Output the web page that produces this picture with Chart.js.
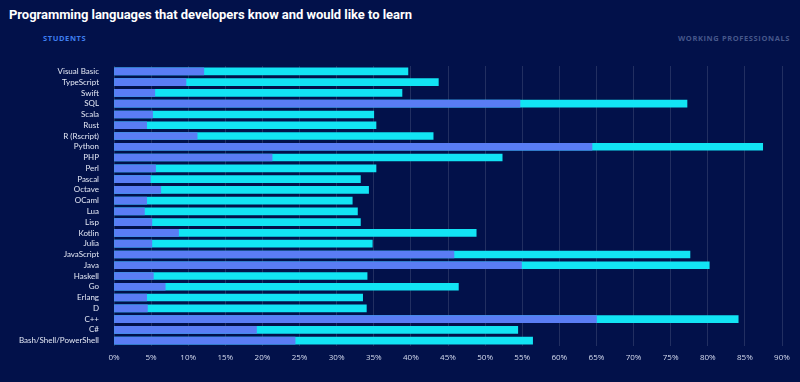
<!DOCTYPE html>
<html>
<head>
<meta charset="utf-8">
<script src="https://cdn.jsdelivr.net/npm/chart.js@4"></script>
<style>
  html, body { margin: 0; padding: 0; background: #02114a; }
  #wrap { position: relative; width: 800px; height: 382px; overflow: hidden; }
  #title { position: absolute; left: 9px; top: 7px; color: #ffffff; font: bold 13px Roboto, sans-serif; letter-spacing: -0.05px; }
  .tab { position: absolute; top: 33px; font: bold 7.5px "Open Sans", sans-serif; letter-spacing: 0.6px; }
  #students { left: 43px; color: #3f7ff0; }
  #pros { right: 10px; color: #46578a; }
  #myChart { position: absolute; left: 0; top: 0; }
</style>
</head>
<body>
<div id="wrap">
  <div id="title">Programming languages that developers know and would like to learn</div>
  <div class="tab" id="students">STUDENTS</div>
  <div class="tab" id="pros">WORKING PROFESSIONALS</div>
  <canvas id="myChart" width="800" height="382"></canvas>
</div>
<script>
let languages = [
    'Visual Basic', 'TypeScript', 'Swift', 'SQL', 'Scala', 'Rust', 'R (Rscript)',
    'Python', 'PHP', 'Perl', 'Pascal', 'Octave', 'OCaml', 'Lua', 'Lisp', 'Kotlin',
    'Julia', 'JavaScript', 'Java', 'Haskell', 'Go', 'Erlang', 'D', 'C++', 'C#',
    'Bash/Shell/PowerShell'
];

// share that knows the language
let know = [
    12.1, 9.7, 5.5, 54.7, 5.2, 4.4, 11.2,
    64.4, 21.3, 5.6, 4.9, 6.3, 4.4, 4.1, 5.1, 8.7,
    5.1, 45.8, 54.9, 5.3, 6.9, 4.4, 4.5, 65.0, 19.2,
    24.4
];

// know + would like to learn
let knowOrLearn = [
    39.6, 43.7, 38.8, 77.2, 35.0, 35.3, 43.0,
    87.4, 52.3, 35.3, 33.2, 34.3, 32.1, 32.8, 33.2, 48.8,
    34.8, 77.6, 80.2, 34.1, 46.4, 33.5, 34.0, 84.1, 54.4,
    56.4
];

let tickValues = [0, 5, 10, 15, 20, 25, 30, 35, 40, 45, 50, 55, 60, 65, 70, 75, 80, 85, 90];

let config = {
    type: 'bar',
    data: {
        labels: languages,
        datasets: [{
            label: 'Know',
            data: know,
            backgroundColor: '#5a7df5',
            barThickness: 7,
            grouped: false
        }, {
            label: 'Would like to learn',
            data: knowOrLearn,
            backgroundColor: '#12e4f4',
            barThickness: 7,
            grouped: false
        }]
    },
    options: {
        indexAxis: 'y',
        responsive: false,
        animation: false,
        layout: { padding: { left: 0, right: 18, top: 66, bottom: 16 } },
        plugins: {
            legend: { display: false },
            tooltip: { enabled: false }
        },
        scales: {
            x: {
                min: 0,
                max: 90,
                afterBuildTicks: (scale) => {
                    scale.ticks = tickValues.map(v => ({ value: v }));
                },
                afterFit: (scale) => { scale.height = 20; },
                grid: { color: 'rgba(255,255,255,0.13)', drawTicks: false },
                border: { display: false },
                ticks: {
                    padding: 7,
                    color: '#d6dcef',
                    font: { family: 'Open Sans', size: 8 },
                    callback: (v) => v + '%'
                }
            },
            y: {
                afterFit: (scale) => { scale.width = 114; },
                grid: { display: false },
                border: { display: false },
                ticks: {
                    padding: 7,
                    color: '#e4e8f5',
                    font: { family: 'Lato', size: 8 },
                    autoSkip: false
                }
            }
        }
    }
};

new Chart(document.getElementById('myChart'), config);
</script>
</body>
</html>
